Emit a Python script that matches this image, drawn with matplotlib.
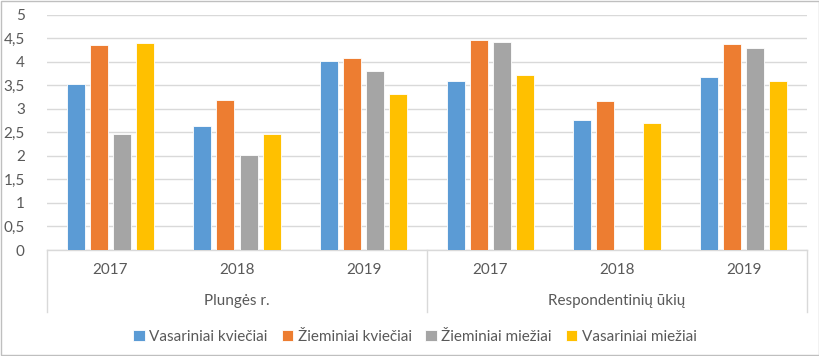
import matplotlib.pyplot as plt
import numpy as np
from matplotlib.patches import Rectangle
from matplotlib.ticker import FuncFormatter
from matplotlib.transforms import blended_transform_factory, offset_copy

plt.rcParams['font.family'] = ['Lato', 'DejaVu Sans']

groups = ['Plungės r.', 'Respondentinių ūkių']
years = ['2017', '2018', '2019']
series = ['Vasariniai kviečiai', 'Žieminiai kviečiai', 'Žieminiai miežiai', 'Vasariniai miežiai']

# values per series, order: Plungės 2017-2019, Respondentinių 2017-2019
vasariniai_kvieciai = [3.53, 2.63, 4.02, 3.60, 2.76, 3.68]
zieminiai_kvieciai = [4.36, 3.18, 4.09, 4.47, 3.16, 4.37]
zieminiai_miezai = [2.46, 2.02, 3.80, 4.43, 0, 4.29]
vasariniai_miezai = [4.39, 2.46, 3.32, 3.71, 2.69, 3.60]
values = [vasariniai_kvieciai, zieminiai_kvieciai, zieminiai_miezai, vasariniai_miezai]

colors = ['#5B9BD5', '#ED7D31', '#A5A5A5', '#FFC000']
yticks = [0, 0.5, 1, 1.5, 2, 2.5, 3, 3.5, 4, 4.5, 5]
txt = '#595959'
grid_c = '#D9D9D9'
fs = 11

fig = plt.figure(figsize=(8.2, 3.56), dpi=100)
ax = fig.add_axes([47 / 820, 1 - 250 / 356, 760 / 820, 235.3 / 356])

n = len(groups) * len(years)
x = np.arange(n)
step = 0.182
width = 0.142
for j, (name, vals) in enumerate(zip(series, values)):
    ax.bar(x + (j - 1.5) * step, vals, width, color=colors[j], label=name,
           edgecolor='white', linewidth=0.6, zorder=3)

ax.set_xlim(-0.5, n - 0.5)
ax.set_ylim(0, 5)
ax.set_yticks(yticks)
ax.yaxis.set_major_formatter(FuncFormatter(lambda v, p: f'{v:g}'.replace('.', ',')))
ax.tick_params(axis='y', length=0, pad=16, labelsize=fs, labelcolor=txt)
ax.set_xticks([])
ax.grid(axis='y', color=grid_c, linewidth=1, zorder=0)
for s in ['top', 'right', 'left']:
    ax.spines[s].set_visible(False)
ax.spines['bottom'].set_color(grid_c)
ax.spines['bottom'].set_linewidth(1)

# multi-level category axis
trans = blended_transform_factory(ax.transData, ax.transAxes)
for i in range(n):
    ax.text(i, 0, years[i % len(years)], transform=offset_copy(trans, fig, y=-20, units='dots'),
            ha='center', va='center', fontsize=fs, color=txt)
for g, name in enumerate(groups):
    cx = g * len(years) + (len(years) - 1) / 2
    ax.text(cx, 0, name, transform=offset_copy(trans, fig, y=-51, units='dots'),
            ha='center', va='center', fontsize=fs, color=txt)
for b in [-0.5, 2.5, 5.5]:
    ax.plot([b, b], [0, -62 / 235.3], transform=trans, color=grid_c, linewidth=1, clip_on=False)

fig.legend(loc='center', bbox_to_anchor=(415 / 820, 1 - 337 / 356), ncol=4, frameon=False,
           fontsize=fs, handlelength=0.75, handleheight=0.75, handletextpad=0.3,
           columnspacing=0.9, labelcolor=txt)

fig.patches.append(Rectangle((0.001, 0.002), 0.998, 0.996, transform=fig.transFigure,
                             fill=False, edgecolor='#BFBFBF', linewidth=1))

fig.savefig('out.png', dpi=100)
